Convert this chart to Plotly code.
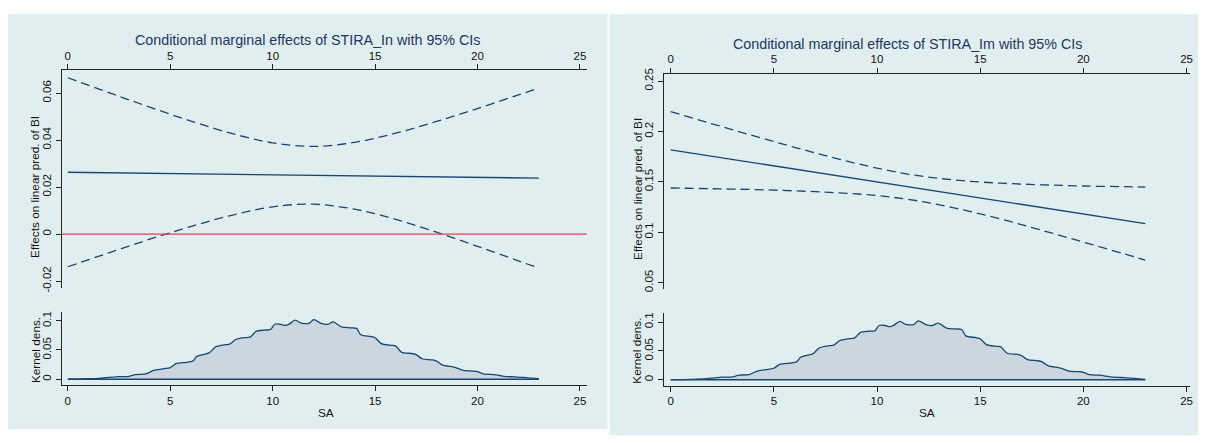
import plotly.graph_objects as go

# ---------------- data ----------------
sa = [0, 2, 4, 6, 8, 10, 12, 14, 16, 18, 20, 22, 23]

in_eff = [0.0263, 0.0261, 0.0259, 0.0256, 0.0254, 0.0252, 0.0250, 0.0248, 0.0246, 0.0243, 0.0241, 0.0239, 0.0238]
in_hi = [0.0665, 0.0602, 0.0540, 0.0481, 0.0428, 0.0388, 0.0373, 0.0390, 0.0429, 0.0479, 0.0534, 0.0592, 0.0621]
in_lo = [-0.0139, -0.0080, -0.0022, 0.0032, 0.0080, 0.0116, 0.0127, 0.0106, 0.0063, 0.0008, -0.0052, -0.0114, -0.0145]

im_eff = [0.1818, 0.1754, 0.1691, 0.1627, 0.1563, 0.1500, 0.1436, 0.1372, 0.1309, 0.1245, 0.1181, 0.1118, 0.1086]
im_hi = [0.2197, 0.2076, 0.1958, 0.1843, 0.1733, 0.1636, 0.1561, 0.1514, 0.1487, 0.1471, 0.1459, 0.1452, 0.1448]
im_lo = [0.1439, 0.1432, 0.1424, 0.1411, 0.1393, 0.1364, 0.1311, 0.1230, 0.1131, 0.1019, 0.0903, 0.0785, 0.0724]

kd_x = [0.0, 1.0, 1.5, 2.0, 2.5, 3.0, 3.3, 3.8, 4.2, 4.7, 5.0, 5.3, 5.8, 6.1, 6.3, 6.7, 6.9,
        7.2, 7.7, 7.9, 8.2, 8.6, 8.9, 9.2, 9.6, 9.9, 10.1, 10.4, 10.6, 10.8, 11.1, 11.4, 11.8,
        12.0, 12.4, 12.7, 12.95, 13.4, 13.8, 14.1, 14.3, 14.8, 15.0, 15.3, 15.8, 16.0, 16.3,
        16.8, 17.0, 17.3, 17.8, 18.0, 18.3, 18.8, 19.0, 19.3, 19.8, 20.0, 20.3, 20.8, 21.0,
        21.3, 21.8, 22.3, 22.6, 23.0]
kd_y = [0.0003, 0.0008, 0.0015, 0.003, 0.0045, 0.005, 0.008, 0.009, 0.015, 0.018, 0.020, 0.027,
        0.029, 0.031, 0.039, 0.043, 0.045, 0.055, 0.059, 0.060, 0.068, 0.071, 0.072, 0.082,
        0.084, 0.085, 0.094, 0.094, 0.092, 0.094, 0.101, 0.096, 0.096, 0.102, 0.095, 0.094,
        0.098, 0.089, 0.088, 0.087, 0.076, 0.073, 0.071, 0.061, 0.058, 0.057, 0.046, 0.044,
        0.042, 0.035, 0.033, 0.031, 0.024, 0.021, 0.019, 0.015, 0.014, 0.013, 0.009, 0.008,
        0.007, 0.005, 0.004, 0.003, 0.002, 0.0008]

x_ticks = [0, 5, 10, 15, 20, 25]
x_ticktext = ["0", "5", "10", "15", "20", "25"]
in_yticks = [-0.02, 0, 0.02, 0.04, 0.06]
in_yticktext = ["-0.02", "0", "0.02", "0.04", "0.06"]
im_yticks = [0.05, 0.1, 0.15, 0.2, 0.25]
im_yticktext = ["0.05", "0.1", "0.15", "0.2", "0.25"]
kd_yticks = [0, 0.05, 0.1]
kd_yticktext = ["0", "0.05", "0.1"]
ref_value = 0   # red reference line in the STIRA_In panel

title_in = "Conditional marginal effects of STIRA_In with 95% CIs"
title_im = "Conditional marginal effects of STIRA_Im with 95% CIs"
ytitle_top = "Effects on linear pred. of BI"
ytitle_kd = "Kernel dens."
xtitle = "SA"

# ---------------- styling ----------------
OFF = 8                      # page body margin of the html
W, H = 1206 - OFF, 443 - OFF
NAVY = "#1a476f"
RED = "#ea3a52"
BG = "#e1eeef"
GRID = "#e2edef"
FILL = "#cbd6e0"
FONT = "Liberation Sans, Arial, sans-serif"
DASH = "9px,5px"


def px(v):
    return max(0.0, (v - OFF) / W)


def py(v):
    return min(1.0, 1 - (v - OFF) / H)


fig = go.Figure()

# ---- left top (STIRA_In) ----
fig.add_trace(go.Scatter(x=sa, y=in_hi, mode="lines", line=dict(color=NAVY, width=1.3, dash=DASH, shape="spline"),
                         xaxis="x", yaxis="y"))
fig.add_trace(go.Scatter(x=sa, y=in_lo, mode="lines", line=dict(color=NAVY, width=1.3, dash=DASH, shape="spline"),
                         xaxis="x", yaxis="y"))
fig.add_trace(go.Scatter(x=sa, y=in_eff, mode="lines", line=dict(color=NAVY, width=1.3),
                         xaxis="x", yaxis="y"))

# ---- left bottom (kernel density) ----
fig.add_trace(go.Scatter(x=kd_x, y=kd_y, mode="lines", fill="tozeroy", fillcolor=FILL,
                         line=dict(color=NAVY, width=1.3, shape="spline", smoothing=0.7),
                         xaxis="x2", yaxis="y2"))
fig.add_trace(go.Scatter(x=[kd_x[0], kd_x[-1]], y=[0, 0], mode="lines", line=dict(color=NAVY, width=1.5),
                         xaxis="x2", yaxis="y2"))

# ---- right top (STIRA_Im) ----
fig.add_trace(go.Scatter(x=sa, y=im_hi, mode="lines", line=dict(color=NAVY, width=1.3, dash=DASH, shape="spline"),
                         xaxis="x3", yaxis="y3"))
fig.add_trace(go.Scatter(x=sa, y=im_lo, mode="lines", line=dict(color=NAVY, width=1.3, dash=DASH, shape="spline"),
                         xaxis="x3", yaxis="y3"))
fig.add_trace(go.Scatter(x=sa, y=im_eff, mode="lines", line=dict(color=NAVY, width=1.3),
                         xaxis="x3", yaxis="y3"))

# ---- right bottom (kernel density) ----
fig.add_trace(go.Scatter(x=kd_x, y=kd_y, mode="lines", fill="tozeroy", fillcolor=FILL,
                         line=dict(color=NAVY, width=1.3, shape="spline", smoothing=0.7),
                         xaxis="x4", yaxis="y4"))
fig.add_trace(go.Scatter(x=[kd_x[0], kd_x[-1]], y=[0, 0], mode="lines", line=dict(color=NAVY, width=1.5),
                         xaxis="x4", yaxis="y4"))

tickfont = dict(family=FONT, size=11.5, color="#111111")


def xaxis(domain, rng, anchor, side):
    return dict(domain=domain, range=rng, anchor=anchor, side=side,
                tickvals=x_ticks, ticktext=x_ticktext, ticks="outside", ticklen=5,
                tickcolor="#222222", showline=True, linecolor="#222222", linewidth=1,
                showgrid=False, zeroline=False, tickfont=tickfont, fixedrange=True)


def yaxis(domain, rng, anchor, tv, tt):
    return dict(domain=domain, range=rng, anchor=anchor, side="left",
                tickvals=tv, ticktext=tt, ticks="outside", ticklen=5, tickangle=-90,
                tickcolor="#222222", showline=True, linecolor="#222222", linewidth=1,
                showgrid=True, gridcolor=GRID, gridwidth=1.2, zeroline=False,
                tickfont=tickfont, fixedrange=True)


L_dom = [px(62), px(588.3)]
R_dom = [px(665.7), px(1193)]

fig.update_layout(
    width=W, height=H,
    margin=dict(l=0, r=0, t=0, b=0),
    paper_bgcolor="white",
    plot_bgcolor="white",
    showlegend=False,
    hovermode=False,
    font=dict(family=FONT, size=12, color="#111111"),
    xaxis=xaxis(L_dom, [-0.29, 25.34], "y", "top"),
    yaxis=yaxis([py(289), py(65.7)], [-0.0229, 0.0697], "x", in_yticks, in_yticktext),
    xaxis2=xaxis(L_dom, [-0.29, 25.34], "y2", "bottom"),
    yaxis2=yaxis([py(389), py(313.3)], [-0.0105, 0.1157], "x2", kd_yticks, kd_yticktext),
    xaxis3=xaxis(R_dom, [-0.32, 25.17], "y3", "top"),
    yaxis3=yaxis([py(290), py(69.3)], [0.0439, 0.2572], "x3", im_yticks, im_yticktext),
    xaxis4=xaxis(R_dom, [-0.32, 25.17], "y4", "bottom"),
    yaxis4=yaxis([py(389.3), py(315)], [-0.0101, 0.1152], "x4", kd_yticks, kd_yticktext),
    shapes=[
        dict(type="rect", xref="paper", yref="paper", x0=px(7), x1=px(609), y0=py(434), y1=py(6),
             fillcolor=BG, line=dict(width=0), layer="below"),
        dict(type="rect", xref="paper", yref="paper", x0=px(611), x1=px(1203), y0=py(440), y1=py(8),
             fillcolor=BG, line=dict(width=0), layer="below"),
        dict(type="line", xref="x domain", yref="y", x0=0, x1=1, y0=ref_value, y1=ref_value,
             line=dict(color=RED, width=1.3), layer="above"),
    ],
)

ann = []
title_font = dict(family=FONT, size=14.3, color="#1c3764")
ann.append(dict(text=title_in, x=px(308), y=py(34.3), xref="paper", yref="paper",
                showarrow=False, font=title_font, xanchor="center", yanchor="middle"))
ann.append(dict(text=title_im, x=px(910), y=py(38.3), xref="paper", yref="paper",
                showarrow=False, font=title_font, xanchor="center", yanchor="middle"))
lab_font = dict(family=FONT, size=11.8, color="#111111")
for xx, yy, t in [(34.5, 185, ytitle_top), (640, 187, ytitle_top),
                  (35.5, 352.4, ytitle_kd), (639, 353, ytitle_kd)]:
    ann.append(dict(text=t, x=px(xx), y=py(yy), xref="paper", yref="paper", textangle=-90,
                    showarrow=False, font=lab_font, xanchor="center", yanchor="middle"))
for xx, yy in [(327, 417), (929, 417)]:
    ann.append(dict(text=xtitle, x=px(xx), y=py(yy), xref="paper", yref="paper",
                    showarrow=False, font=lab_font, xanchor="center", yanchor="middle"))
fig.update_layout(annotations=ann)

fig.write_html("out.html", config={"displayModeBar": False})
